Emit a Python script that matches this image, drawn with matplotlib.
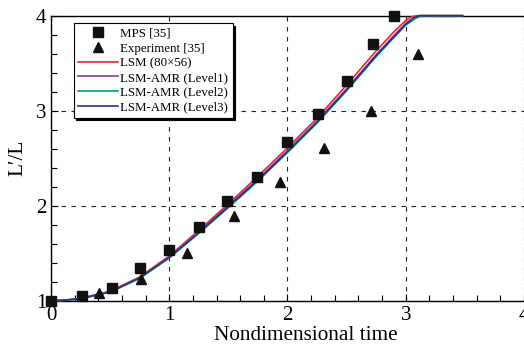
import numpy as np
import matplotlib
matplotlib.use('Agg')
import matplotlib.pyplot as plt
from matplotlib.ticker import MultipleLocator

plt.rcParams['font.family'] = ['Liberation Serif', 'DejaVu Serif']

# MPS [35]
mps_t = [0.0, 0.26, 0.52, 0.755, 1.0, 1.25, 1.49, 1.745, 2.0, 2.255, 2.50, 2.72, 2.90]
mps_l = [1.0, 1.05, 1.13, 1.34, 1.53, 1.78, 2.05, 2.30, 2.67, 2.96, 3.31, 3.70, 4.0]

# Experiment [35]
exp_t = [0.41, 0.765, 1.15, 1.545, 1.94, 2.31, 2.71, 3.10]
exp_l = [1.08, 1.23, 1.50, 1.89, 2.25, 2.61, 3.00, 3.60]

# LSM curves
t_lsm = [0.0, 0.1, 0.25, 0.5, 0.75, 1.0, 1.25, 1.5, 1.75, 2.0, 2.25, 2.5, 2.75, 2.9, 3.0, 3.05, 3.1, 3.48]
l_lsm = [1.0, 1.005, 1.025, 1.10, 1.25, 1.47, 1.74, 2.02, 2.31, 2.61, 2.92, 3.27, 3.63, 3.83, 3.95, 3.99, 4.0, 4.0]
t_l1 = [0.0, 0.1, 0.25, 0.5, 0.75, 1.0, 1.25, 1.5, 1.75, 2.0, 2.25, 2.5, 2.75, 2.9, 3.0, 3.07, 3.12, 3.48]
l_l1 = [1.0, 1.004, 1.022, 1.095, 1.24, 1.46, 1.72, 2.0, 2.28, 2.58, 2.89, 3.23, 3.59, 3.79, 3.92, 3.98, 4.0, 4.0]
t_l2 = [0.0, 0.1, 0.25, 0.5, 0.75, 1.0, 1.25, 1.5, 1.75, 2.0, 2.25, 2.5, 2.75, 2.9, 3.0, 3.08, 3.13, 3.48]
l_l2 = [1.0, 1.003, 1.02, 1.09, 1.235, 1.45, 1.71, 1.98, 2.26, 2.56, 2.87, 3.21, 3.57, 3.77, 3.90, 3.97, 4.0, 4.0]
t_l3 = [0.0, 0.1, 0.25, 0.5, 0.75, 1.0, 1.25, 1.5, 1.75, 2.0, 2.25, 2.5, 2.75, 2.9, 3.0, 3.07, 3.12, 3.48]
l_l3 = [1.0, 1.004, 1.021, 1.093, 1.24, 1.455, 1.715, 1.99, 2.27, 2.57, 2.88, 3.22, 3.58, 3.78, 3.91, 3.98, 4.0, 4.0]

fig = plt.figure(figsize=(5.24, 3.47), dpi=100)
ax = fig.add_axes([0.0973, 0.1334, 0.9027, 0.8214])

ax.plot(t_lsm, l_lsm, color='#e8262b', lw=1.2, label='LSM (80\u00d756)', clip_on=False, zorder=3)
ax.plot(t_l1, l_l1, color='#8e3b97', lw=1.2, label='LSM-AMR (Level1)', clip_on=False, zorder=3)
ax.plot(t_l2, l_l2, color='#00a650', lw=1.2, label='LSM-AMR (Level2)', clip_on=False, zorder=3)
ax.plot(t_l3, l_l3, color='#2e3192', lw=1.2, label='LSM-AMR (Level3)', clip_on=False, zorder=3)
ax.plot(mps_t, mps_l, 's', color='#111111', ms=6.5, label='MPS [35]', clip_on=False, zorder=4)
ax.plot(exp_t, exp_l, '^', color='#111111', ms=7, label='Experiment [35]', clip_on=False, zorder=4)

ax.set_xlim(0, 4)
ax.set_ylim(1, 4)
ax.xaxis.set_major_locator(MultipleLocator(1))
ax.yaxis.set_major_locator(MultipleLocator(1))
ax.xaxis.set_minor_locator(MultipleLocator(0.2))
ax.yaxis.set_minor_locator(MultipleLocator(0.2))
ax.tick_params(which='both', direction='in', labelsize=15, width=0.8)
ax.tick_params(which='major', length=5)
ax.tick_params(which='minor', length=4)
ax.tick_params(axis='x', which='major', pad=4)
ax.tick_params(axis='y', which='major', pad=3.5)
ax.grid(True, which='major', color='#222222', ls=(0, (4, 5)), lw=0.8)
ax.spines['right'].set_visible(False)
for s in ['left', 'bottom', 'top']:
    ax.spines[s].set_linewidth(1.0)

ax.set_xlabel('Nondimensional time', fontsize=15.3)
ax.xaxis.set_label_coords(0.539, -0.088)
ax.set_ylabel('L\u2032/L', fontsize=15.3)
ax.yaxis.set_label_coords(-0.05, 0.5)

h, lab = ax.get_legend_handles_labels()
order = [4, 5, 0, 1, 2, 3]
leg = ax.legend([h[i] for i in order], [lab[i] for i in order], loc='upper left',
                bbox_to_anchor=(0.048, 0.973), borderaxespad=0, fontsize=9.3,
                fancybox=False, shadow={'color': 'black', 'alpha': 1.0},
                edgecolor='black', framealpha=1, handlelength=3.1,
                handletextpad=0.15, labelspacing=0.2, borderpad=0.35)
leg.get_frame().set_linewidth(0.8)

fig.savefig('out.png', dpi=100)
